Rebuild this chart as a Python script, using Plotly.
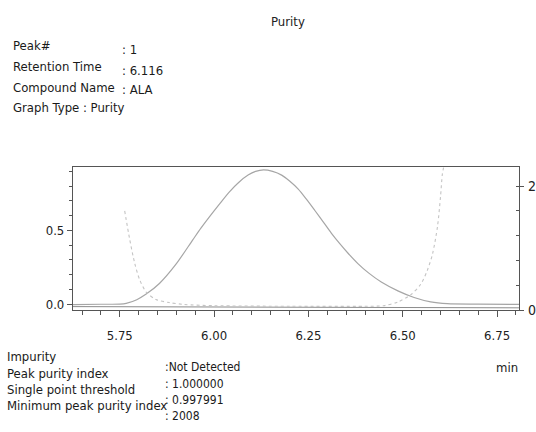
import plotly.graph_objects as go

# ---- data ----
peak_time = [5.626, 5.70, 5.75, 5.767, 5.795, 5.820, 5.855, 5.899, 5.943, 5.965, 5.987,
             6.013, 6.040, 6.065, 6.090, 6.110, 6.131, 6.155, 6.179, 6.200, 6.223, 6.245,
             6.267, 6.290, 6.311, 6.333, 6.355, 6.381, 6.410, 6.443, 6.487, 6.530, 6.574,
             6.618, 6.700, 6.810]
peak_value = [-0.003, -0.001, 0.0, 0.005, 0.03, 0.068, 0.14, 0.271, 0.434, 0.515, 0.59,
              0.675, 0.76, 0.825, 0.875, 0.90, 0.91, 0.90, 0.875, 0.835, 0.78, 0.71,
              0.635, 0.555, 0.48, 0.41, 0.345, 0.275, 0.21, 0.15, 0.09, 0.045, 0.015,
              0.003, 0.0, -0.002]

purity_time = [5.763, 5.776, 5.789, 5.802, 5.820, 5.846, 5.881, 5.920, 6.000, 6.200,
               6.400, 6.450, 6.487, 6.522, 6.548, 6.565, 6.579, 6.592, 6.600, 6.605, 6.610]
purity_value = [1.60, 1.15, 0.77, 0.50, 0.29, 0.17, 0.12, 0.09, 0.07, 0.06,
                0.06, 0.07, 0.13, 0.25, 0.42, 0.64, 0.91, 1.35, 1.83, 2.20, 2.35]

threshold_time = [5.626, 6.810]
threshold_value = [0.055, 0.035]

x_range = [5.626, 6.808]
y_range = [-0.04, 0.93]
y2_range = [0, 2.31]

header_labels = ["Peak#", "Retention Time", "Compound Name", "Graph Type : Purity"]
header_values = [": 1", ": 6.116", ": ALA", ""]
footer_labels = ["Impurity", "Peak purity index", "Single point threshold",
                 "Minimum peak purity index"]
footer_values = [":Not Detected", ": 1.000000", ": 0.997991", ": 2008"]

FONT = "DejaVu Sans Condensed, Liberation Sans Narrow, Arial Narrow, sans-serif"
W, H = 536, 432
# plot area in page pixels: left 73, right 519, top 167, bottom 310
L, T = 73, 167
R = W - 519
B = H - 310
PW, PH = W - L - R, H - T - B


def px(x):
    return (x - L) / PW


def py(y):
    return (H - B - y) / PH


def fnt(size, color="#1a1a1a"):
    return dict(family=FONT, size=size, color=color)


fig = go.Figure()
fig.add_trace(go.Scatter(x=peak_time, y=peak_value, mode="lines",
                         line=dict(color="#a6a6a6", width=1.2, shape="spline", smoothing=0.8),
                         hoverinfo="skip"))
fig.add_trace(go.Scatter(x=threshold_time, y=threshold_value, mode="lines", yaxis="y2",
                         line=dict(color="#8c8c8c", width=1), hoverinfo="skip"))
fig.add_trace(go.Scatter(x=purity_time, y=purity_value, mode="lines", yaxis="y2",
                         line=dict(color="#c4c4c4", width=1.1, dash="dot", shape="spline",
                                   smoothing=0.8),
                         hoverinfo="skip"))

axis_col = "#555555"
tick_font = fnt(13, "#222222")

fig.update_layout(
    width=W, height=H,
    margin=dict(l=L, r=R, t=T, b=B, autoexpand=False),
    paper_bgcolor="white", plot_bgcolor="white",
    showlegend=False,
    xaxis=dict(range=x_range, showgrid=False, zeroline=False, automargin=False,
               showline=True, linecolor=axis_col, linewidth=1.2, mirror=True,
               ticks="outside", ticklen=6, tickcolor=axis_col, tick0=5.75, dtick=0.25,
               tickformat=".2f", tickfont=tick_font, ticklabelstandoff=7,
               minor=dict(dtick=0.05, ticks="outside", ticklen=4, tickcolor=axis_col)),
    yaxis=dict(range=y_range, showgrid=False, zeroline=False, automargin=False,
               showline=True, linecolor=axis_col, linewidth=1.2,
               ticks="outside", ticklen=5, tickcolor=axis_col, tick0=0, dtick=0.5,
               tickformat=".1f", tickfont=tick_font,
               minor=dict(dtick=0.1, ticks="outside", ticklen=3, tickcolor=axis_col)),
    yaxis2=dict(range=y2_range, overlaying="y", side="right", showgrid=False,
                zeroline=False, showline=True, linecolor=axis_col, linewidth=1.2,
                automargin=False,
                ticks="outside", ticklen=4, tickcolor=axis_col, tick0=0, dtick=2,
                tickfont=fnt(14, "#222222"), ticklabelstandoff=1,
                minor=dict(dtick=0.4, ticks="inside", ticklen=3, tickcolor=axis_col)),
)

ann = []
ann.append(dict(text="Purity", x=px(288), y=py(21), xanchor="center", yanchor="middle",
                font=fnt(13, "#222")))
header_y = [46, 67, 87, 107]
for lab, val, yy in zip(header_labels, header_values, header_y):
    ann.append(dict(text=lab, x=px(11), y=py(yy), xanchor="left", yanchor="middle",
                    font=fnt(13)))
    if val:
        ann.append(dict(text=val, x=px(120), y=py(yy + 3), xanchor="left", yanchor="middle",
                        font=fnt(13)))
footer_y = [356, 373, 389, 405]
for lab, val, yy in zip(footer_labels, footer_values, footer_y):
    ann.append(dict(text=lab, x=px(5), y=py(yy), xanchor="left", yanchor="middle",
                    font=fnt(13)))
    ann.append(dict(text=val, x=px(163), y=py(yy + 11), xanchor="left", yanchor="middle",
                    font=fnt(12)))
ann.append(dict(text="min", x=px(507), y=py(367), xanchor="center", yanchor="middle",
                font=fnt(13, "#222")))
for a in ann:
    a.update(xref="paper", yref="paper", showarrow=False)
fig.update_layout(annotations=ann)

fig.write_html(
    "out.html",
    config={"displayModeBar": False},
    post_script="document.body.style.margin='0';document.body.style.overflow='hidden';",
)
